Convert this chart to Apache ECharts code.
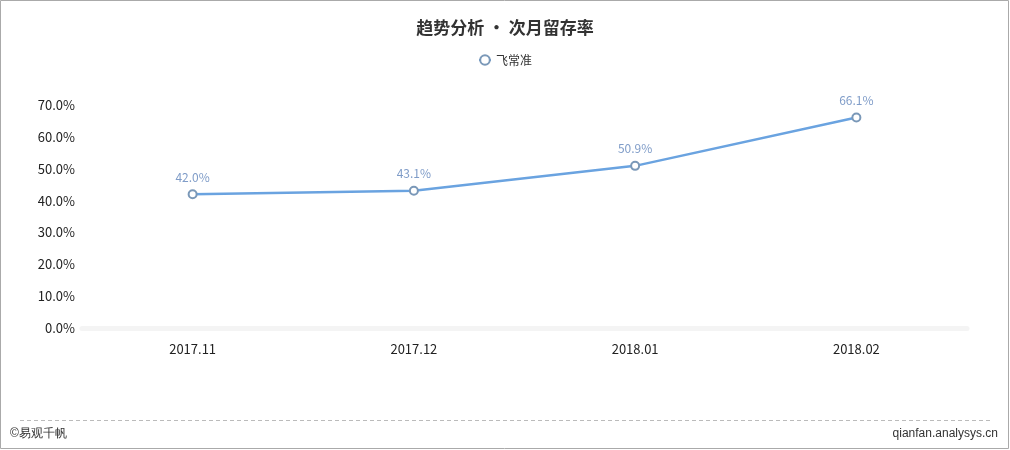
<!DOCTYPE html>
<html>
<head>
<meta charset="utf-8">
<script src="https://cdn.jsdelivr.net/npm/echarts@6/dist/echarts.min.js"></script>
<style>
html,body{margin:0;padding:0;background:#fff;}
#main{width:1010px;height:450px;}
</style>
</head>
<body>
<div id="main"></div>
<script>
var months = ["2017.11", "2017.12", "2018.01", "2018.02"];
var retention = [42.0, 43.1, 50.9, 66.1];
var seriesName = "飞常准";

var chartDom = document.getElementById("main");
var myChart = echarts.init(chartDom, null, {renderer: "canvas"});
var font = "'Microsoft YaHei','Noto Sans CJK SC','Noto Sans',sans-serif";

var option = {
  backgroundColor: "#fff",
  animation: false,
  title: {
    text: "趋势分析 • 次月留存率",
    left: "center",
    top: 14,
    textStyle: {fontSize: 17, fontWeight: "bold", color: "#333", fontFamily: font}
  },
  legend: {
    data: [seriesName],
    top: 49,
    left: "center",
    itemWidth: 12,
    itemHeight: 12,
    textStyle: {fontSize: 12, color: "#333", fontFamily: font}
  },
  grid: {left: 82, right: 43, top: 105, bottom: 122},
  xAxis: {
    type: "category",
    data: months,
    axisLine: {show: true, lineStyle: {color: "#f4f4f4", width: 5}},
    axisTick: {show: false},
    axisLabel: {fontSize: 13, color: "#222", margin: 15, fontFamily: font}
  },
  yAxis: {
    type: "value",
    min: 0,
    max: 70,
    interval: 10,
    axisLine: {show: false},
    axisTick: {show: false},
    splitLine: {show: false},
    axisLabel: {
      fontSize: 13, color: "#222", margin: 7, fontFamily: font,
      formatter: function (v) { return v.toFixed(1) + "%"; }
    }
  },
  series: [{
    name: seriesName,
    type: "line",
    data: retention,
    symbol: "emptyCircle",
    symbolSize: 8,
    lineStyle: {width: 2.5, color: "#6aa3e0"},
    itemStyle: {color: "#7a98b8", borderWidth: 2},
    label: {
      show: true,
      position: "top",
      distance: 6,
      color: "#7f9cc8",
      fontSize: 12,
      fontFamily: font,
      formatter: function (p) { return p.value.toFixed(1) + "%"; }
    }
  }],
  graphic: [
    {type: "rect", shape: {x: 0.5, y: 0.5, width: 1008, height: 448},
     style: {fill: "none", stroke: "#aaa", lineWidth: 1}, silent: true},
    {type: "line", shape: {x1: 20, y1: 420.5, x2: 990, y2: 420.5},
     style: {stroke: "#bbb", lineWidth: 1, lineDash: [4, 3]}},
    {type: "text", left: 10, top: 428,
     style: {text: "©易观千帆", fontSize: 12, fill: "#333", font: "12px " + font}},
    {type: "text", right: 12, top: 428,
     style: {text: "qianfan.analysys.cn", fontSize: 12, fill: "#333", font: "12px " + font}}
  ]
};
option && myChart.setOption(option);
window.addEventListener("resize", myChart.resize);
</script>
</body>
</html>
